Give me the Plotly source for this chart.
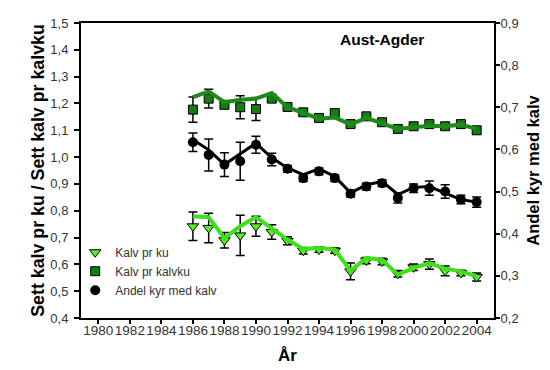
import plotly.graph_objects as go

# Years with data
years = list(range(1986, 2005))

# Kalv pr ku (left axis) - triangles, smoothed line, error bars
kalv_pr_ku = [0.742, 0.736, 0.690, 0.708, 0.742, 0.721, 0.688, 0.651, 0.655, 0.651,
              0.574, 0.614, 0.611, 0.565, 0.589, 0.601, 0.576, 0.568, 0.553]
kalv_pr_ku_line = [0.779, 0.776, 0.698, 0.742, 0.776, 0.736, 0.692, 0.657, 0.661, 0.655,
                   0.576, 0.624, 0.617, 0.562, 0.587, 0.605, 0.584, 0.574, 0.556]
kalv_pr_ku_err = [0.053, 0.055, 0.029, 0.075, 0.037, 0.027, 0.015, 0.012, 0.010, 0.010,
                  0.031, 0.012, 0.012, 0.012, 0.012, 0.019, 0.018, 0.010, 0.015]

# Kalv pr kalvku (left axis) - squares
kalv_pr_kalvku = [1.177, 1.218, 1.195, 1.186, 1.179, 1.218, 1.187, 1.167, 1.146, 1.164,
                  1.123, 1.152, 1.130, 1.105, 1.115, 1.123, 1.115, 1.123, 1.100]
kalv_pr_kalvku_line = [1.224, 1.245, 1.205, 1.214, 1.218, 1.239, 1.186, 1.164, 1.143, 1.148,
                       1.121, 1.146, 1.127, 1.105, 1.111, 1.117, 1.115, 1.121, 1.105]
kalv_pr_kalvku_err = [0.047, 0.035, 0.010, 0.043, 0.043, 0.012, 0.010, 0.010, 0.010, 0.010,
                      0.010, 0.010, 0.010, 0.010, 0.010, 0.010, 0.010, 0.010, 0.010]

# Andel kyr med kalv (right axis) - circles
andel = [0.617, 0.587, 0.564, 0.572, 0.611, 0.576, 0.554, 0.532, 0.548, 0.532,
         0.495, 0.512, 0.520, 0.485, 0.508, 0.508, 0.500, 0.481, 0.475]
andel_line = [0.623, 0.599, 0.564, 0.589, 0.615, 0.580, 0.556, 0.540, 0.554, 0.536,
              0.497, 0.516, 0.524, 0.493, 0.510, 0.512, 0.497, 0.481, 0.475]
andel_err = [0.022, 0.038, 0.028, 0.045, 0.020, 0.015, 0.008, 0.008, 0.008, 0.008,
             0.008, 0.008, 0.008, 0.012, 0.010, 0.017, 0.016, 0.010, 0.012]

x_ticks = list(range(1980, 2005, 2))

FONT = "Arial, Liberation Sans, sans-serif"
LIME = "#3ee01a"
DARK = "#1f8a1a"

fig = go.Figure()

def err(vals):
    return dict(type="data", array=vals, visible=True, color="black", thickness=1.5, width=4.5)

# marker traces
fig.add_trace(go.Scatter(x=years, y=kalv_pr_ku, mode="markers", name="Kalv pr ku",
                         marker=dict(symbol="triangle-down", size=10, color="#55ee22",
                                     line=dict(color="black", width=1)),
                         error_y=err(kalv_pr_ku_err)))
fig.add_trace(go.Scatter(x=years, y=kalv_pr_kalvku, mode="markers", name="Kalv pr kalvku",
                         marker=dict(symbol="square", size=9, color="#137d13",
                                     line=dict(color="black", width=1)),
                         error_y=err(kalv_pr_kalvku_err)))
fig.add_trace(go.Scatter(x=years, y=andel, mode="markers", name="Andel kyr med kalv",
                         yaxis="y2",
                         marker=dict(symbol="circle", size=10, color="black"),
                         error_y=err(andel_err)))

# smoothed lines
fig.add_trace(go.Scatter(x=years, y=kalv_pr_ku_line, mode="lines", showlegend=False,
                         line=dict(color=LIME, width=4)))
fig.add_trace(go.Scatter(x=years, y=kalv_pr_kalvku_line, mode="lines", showlegend=False,
                         line=dict(color=DARK, width=4)))
fig.add_trace(go.Scatter(x=years, y=andel_line, mode="lines", showlegend=False, yaxis="y2",
                         line=dict(color="black", width=3)))

axis_common = dict(showline=True, linecolor="black", linewidth=2, ticks="outside",
                   ticklen=5, tickcolor="black", tickwidth=1.5, showgrid=False, zeroline=False,
                   automargin=False,
                   tickfont=dict(family=FONT, size=13, color="#333333"))

fig.update_layout(
    width=550, height=370,
    margin=dict(l=73, r=64, t=15, b=60),
    paper_bgcolor="white", plot_bgcolor="white",
    separators=",.",
    font=dict(family=FONT),
    xaxis=dict(range=[1978.9, 2005.1], tickvals=x_ticks, mirror=True, tickangle=0,
               ticklabelstandoff=-5,
               title=dict(text="<b>År</b>", font=dict(family=FONT, size=17, color="black"),
                          standoff=12),
               **{**axis_common, "ticklen": 4,
                  "tickfont": dict(family=FONT, size=13.5, color="#333333")}),
    yaxis=dict(range=[0.4, 1.5], dtick=0.1, tickformat=".1f", ticklabelstandoff=3,
               title=dict(text="<b>Sett kalv pr ku / Sett kalv pr kalvku</b>",
                          font=dict(family=FONT, size=17.8, color="black"), standoff=1),
               **axis_common),
    yaxis2=dict(range=[0.2, 0.9], dtick=0.1, tickformat=".1f", overlaying="y", side="right",
                ticklabelstandoff=-2,
                title=dict(text="<b>Andel kyr med kalv</b>",
                           font=dict(family=FONT, size=16.5, color="black"), standoff=10),
                **{**axis_common, "ticklen": 4}),
    legend=dict(x=-0.014, y=0.045, xanchor="left", yanchor="bottom", bgcolor="rgba(0,0,0,0)",
                font=dict(family=FONT, size=12, color="#333333"), tracegroupgap=0,
                itemwidth=30),
    annotations=[dict(text="<b>Aust-Agder</b>", x=0.73, y=0.98, xref="paper", yref="paper",
                      showarrow=False, xanchor="center", yanchor="top",
                      font=dict(family=FONT, size=15.5, color="black"))],
)

fig.write_html("out.html")
